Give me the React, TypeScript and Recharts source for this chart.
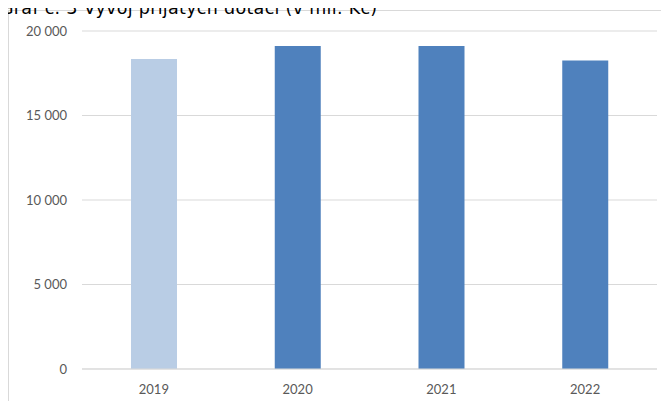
import { BarChart, Bar, XAxis, YAxis, CartesianGrid, Cell } from "recharts";

const years = ["2019", "2020", "2021", "2022"];
const dotace = [18340, 19110, 19110, 18260]; // mil. Kč
const barColors = ["#b9cde5", "#4f81bd", "#4f81bd", "#4f81bd"];
const yTicks = [0, 5000, 10000, 15000, 20000];

const data = years.map((year, i) => ({ year, value: dotace[i] }));

const fmt = (v: number) =>
  v === 0 ? "0" : `${Math.floor(v / 1000)}\u202F${String(v % 1000).padStart(3, "0")}`;

export default function App() {
  return (
    <div style={{ position: "relative", width: 669, height: 401, margin: "-8px 0 0 -8px", overflow: "hidden", background: "#fff" }}>
      {/* chart frame */}
      <div style={{ position: "absolute", left: 8, top: 10, width: 700, height: 420, border: "1px solid #d9d9d9", boxSizing: "border-box" }} />

      <div style={{ position: "absolute", left: 0, top: 0 }}>
        <BarChart width={669} height={401} data={data} margin={{ top: 31, right: 12, bottom: 2, left: 0 }}>
          <CartesianGrid vertical={false} stroke="#d9d9d9" />
          <XAxis
            dataKey="year"
            axisLine={{ stroke: "#d9d9d9" }}
            tickLine={false}
            tickMargin={10}
            height={30}
            tick={{ fill: "#595959", fontSize: 13, fontFamily: "Lato, 'Open Sans', sans-serif" }}
          />
          <YAxis
            domain={[0, 20000]}
            ticks={yTicks}
            tickFormatter={fmt}
            axisLine={false}
            tickLine={false}
            tickMargin={9}
            width={82}
            tick={{ fill: "#595959", fontSize: 13, fontFamily: "Lato, 'Open Sans', sans-serif" }}
          />
          <Bar dataKey="value" barSize={46} isAnimationActive={false}>
            {data.map((d, i) => (
              <Cell key={d.year} fill={barColors[i]} />
            ))}
          </Bar>
        </BarChart>
      </div>

      {/* title sits above the frame, its top clipped as in the source */}
      <div
        style={{
          position: "absolute",
          left: 0,
          top: -1.5,
          zIndex: 5,
          lineHeight: "18px",
          fontFamily: "'DejaVu Sans', sans-serif",
          fontSize: 17.5,
          letterSpacing: 0.3,
          color: "#000",
          whiteSpace: "nowrap",
        }}
      >
        Graf č. 3 Vývoj přijatých dotací (v mil. Kč)
      </div>
    </div>
  );
}
